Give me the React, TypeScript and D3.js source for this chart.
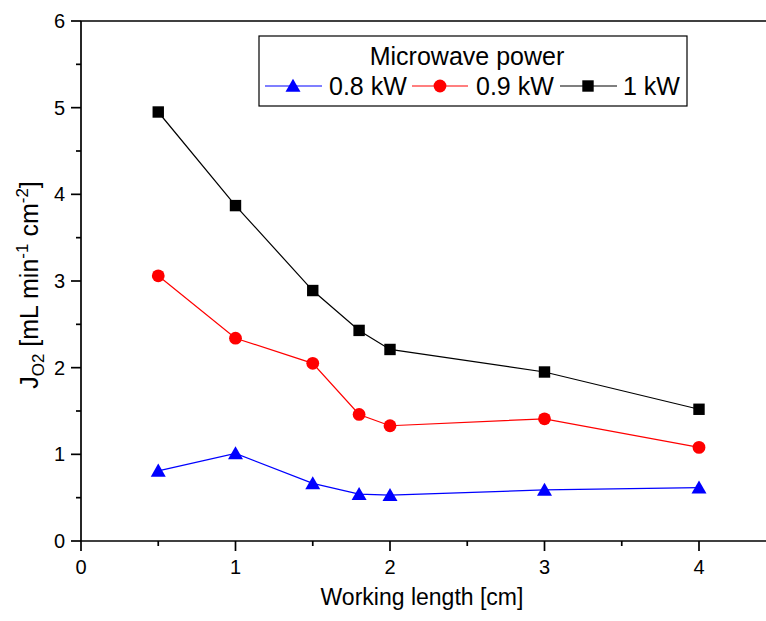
import React from "react";
import * as d3 from "d3";

const xValues = [0.5, 1, 1.5, 1.8, 2, 3, 4];
const series08 = [0.81, 1.01, 0.665, 0.54, 0.53, 0.59, 0.615];
const series09 = [3.06, 2.34, 2.05, 1.46, 1.33, 1.41, 1.08];
const series10 = [4.95, 3.87, 2.89, 2.43, 2.21, 1.95, 1.52];
const xTicks = [0, 1, 2, 3, 4];
const yTicks = [0, 1, 2, 3, 4, 5, 6];
const legendTitle = "Microwave power";
const seriesNames = ["0.8 kW", "0.9 kW", "1 kW"];

const W = 766;
const H = 621;
const FONT = "'Liberation Sans', Arial, Helvetica, sans-serif";

export default function App() {
  const x = d3.scaleLinear().domain([0, 4.5]).range([81, 81 + 4.5 * 154.5]);
  const y = d3.scaleLinear().domain([0, 6]).range([541, 21]);
  const line = d3
    .line<[number, number]>()
    .x((d) => x(d[0]))
    .y((d) => y(d[1]));
  const pts = (vals: number[]) => xValues.map((v, i) => [v, vals[i]] as [number, number]);

  const xMinor = d3.range(0.5, 4.5, 1);
  const yMinor = d3.range(0.5, 6, 1);

  const tri = (cx: number, cy: number, s = 15) => {
    const h = s * 0.87;
    return `M${cx},${cy - h * 0.55} L${cx + s / 2},${cy + h * 0.45} L${cx - s / 2},${cy + h * 0.45} Z`;
  };

  const x0 = x(0);
  const xR = x(4.5);
  const y0 = y(0);
  const yT = y(6);

  return (
    <svg
      width={W}
      height={H}
      style={{ position: "absolute", left: 0, top: 0, background: "#fff" }}
      fontFamily={FONT}
    >
      <rect x={0} y={0} width={W} height={H} fill="#fff" />
      {/* frame */}
      <line x1={x0} x2={xR} y1={y0} y2={y0} stroke="#000" strokeWidth={1.7} />
      <line x1={x0} x2={xR} y1={yT} y2={yT} stroke="#000" strokeWidth={1.7} />
      <line x1={x0} x2={x0} y1={yT} y2={y0} stroke="#000" strokeWidth={1.7} />
      <line x1={xR} x2={xR} y1={yT} y2={y0} stroke="#000" strokeWidth={1.7} />

      {/* x ticks */}
      {xTicks.map((t) => (
        <g key={"xt" + t}>
          <line x1={x(t)} x2={x(t)} y1={y0} y2={y0 + 10} stroke="#000" strokeWidth={1.7} />
          <text x={x(t)} y={y0 + 33} fontSize={20} textAnchor="middle">
            {t}
          </text>
        </g>
      ))}
      {xMinor.map((t) => (
        <line key={"xm" + t} x1={x(t)} x2={x(t)} y1={y0} y2={y0 + 5} stroke="#000" strokeWidth={1.7} />
      ))}
      {/* y ticks */}
      {yTicks.map((t) => (
        <g key={"yt" + t}>
          <line x1={x0 - 10} x2={x0} y1={y(t)} y2={y(t)} stroke="#000" strokeWidth={1.7} />
          <text x={x0 - 16} y={y(t) + 7} fontSize={20} textAnchor="end">
            {t}
          </text>
        </g>
      ))}
      {yMinor.map((t) => (
        <line key={"ym" + t} x1={x0 - 5} x2={x0} y1={y(t)} y2={y(t)} stroke="#000" strokeWidth={1.7} />
      ))}

      {/* axis titles */}
      <text x={422} y={605} fontSize={23} textAnchor="middle">
        Working length [cm]
      </text>
      <text transform={`translate(38,${(y0 + yT) / 2 + 4}) rotate(-90)`} fontSize={25} textAnchor="middle">
        J
        <tspan fontSize={17} dy={6}>O2</tspan>
        <tspan dy={-6}> [mL min</tspan>
        <tspan fontSize={17} dy={-10}>-1</tspan>
        <tspan dy={10}> cm</tspan>
        <tspan fontSize={17} dy={-10}>-2</tspan>
        <tspan dy={10}>]</tspan>
      </text>

      {/* series lines */}
      <path d={line(pts(series08)) || ""} fill="none" stroke="#0000ff" strokeWidth={1.2} />
      <path d={line(pts(series09)) || ""} fill="none" stroke="#ff0000" strokeWidth={1.2} />
      <path d={line(pts(series10)) || ""} fill="none" stroke="#000" strokeWidth={1.2} />

      {/* markers */}
      {pts(series08).map((d, i) => (
        <path key={"m8" + i} d={tri(x(d[0]), y(d[1]))} fill="#0000ff" />
      ))}
      {pts(series09).map((d, i) => (
        <circle key={"m9" + i} cx={x(d[0])} cy={y(d[1])} r={6.4} fill="#ff0000" />
      ))}
      {pts(series10).map((d, i) => (
        <rect key={"m10" + i} x={x(d[0]) - 5.7} y={y(d[1]) - 5.7} width={11.4} height={11.4} fill="#000" />
      ))}

      {/* legend */}
      <rect x={259} y={36} width={428} height={70} fill="#fff" stroke="#000" strokeWidth={1.2} />
      <text x={467} y={65} fontSize={25} textAnchor="middle">
        {legendTitle}
      </text>
      <line x1={265} x2={322} y1={86} y2={86} stroke="#0000ff" strokeWidth={1.2} />
      <path d={tri(293, 86)} fill="#0000ff" />
      <text x={329} y={95} fontSize={25}>
        {seriesNames[0]}
      </text>
      <line x1={412} x2={468} y1={86} y2={86} stroke="#ff0000" strokeWidth={1.2} />
      <circle cx={440} cy={86} r={6.4} fill="#ff0000" />
      <text x={476} y={95} fontSize={25}>
        {seriesNames[1]}
      </text>
      <line x1={560} x2={617} y1={86} y2={86} stroke="#000" strokeWidth={1.2} />
      <rect x={588 - 5.7} y={86 - 5.7} width={11.4} height={11.4} fill="#000" />
      <text x={623} y={95} fontSize={25}>
        {seriesNames[2]}
      </text>
    </svg>
  );
}
